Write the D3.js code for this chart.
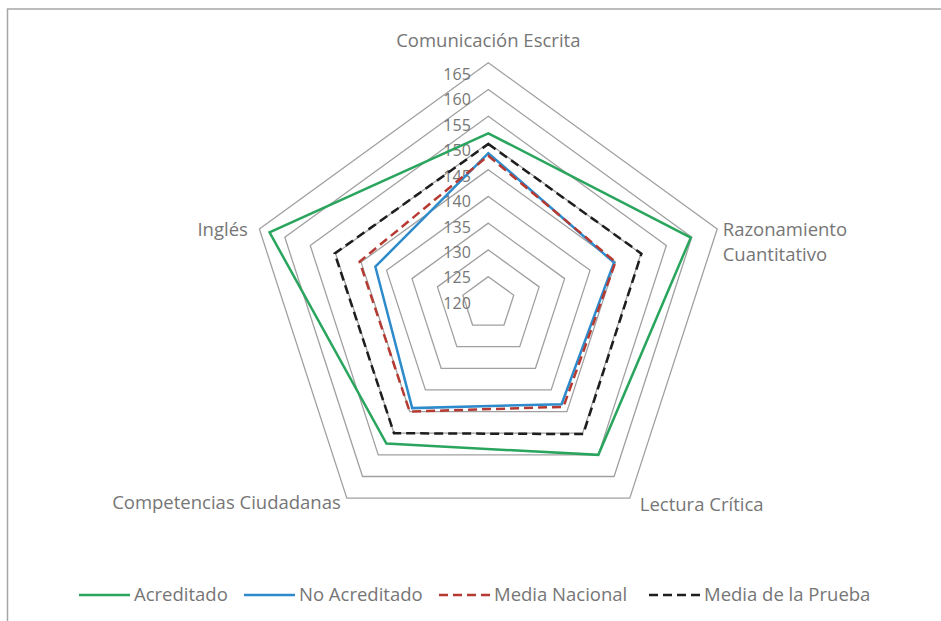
<!DOCTYPE html>
<html>
<head>
<meta charset="utf-8">
<script src="https://cdn.jsdelivr.net/npm/d3@7"></script>
<style>
  body { margin: 0; background: #fff; }
  text { font-family: "Open Sans", Lato, sans-serif; fill: #767676; }
</style>
</head>
<body>
<div id="chart"></div>
<script>
var categories = ["Comunicación Escrita", "Razonamiento Cuantitativo", "Lectura Crítica",
                  "Competencias Ciudadanas", "Inglés"],
ticks = [120, 125, 130, 135, 140, 145, 150, 155, 160, 165],
acreditado = [151.8, 159.8, 155.0, 152.4, 163.0],
noAcreditado = [148.1, 144.7, 143.3, 144.2, 142.2],
mediaNacional = [147.6, 145.0, 143.9, 145.0, 145.3],
mediaPrueba = [149.8, 150.1, 150.2, 150.0, 150.2];

var series = [
  {name: "Acreditado", values: acreditado, color: "#2AA55E", dash: null},
  {name: "No Acreditado", values: noAcreditado, color: "#2E8BCB", dash: null},
  {name: "Media Nacional", values: mediaNacional, color: "#B73A32", dash: "9,5"},
  {name: "Media de la Prueba", values: mediaPrueba, color: "#1E1E1E", dash: "9,5"}
];

var W = 941, H = 621,
CX = 488.3, CY = 303.4,
FONT = "18.5px",
svg = d3.select("#chart").append("svg")
  .attr("width", W)
  .attr("height", H);

// outer frame, runs off the right and bottom edges
svg.append("rect")
  .attr("x", 7.5).attr("y", 9)
  .attr("width", 1000).attr("height", 700)
  .style("fill", "none")
  .style("stroke", "#A6A6A6")
  .style("stroke-width", 1.5);

var r = d3.scaleLinear().domain([120, 165]).range([0, 240.7]);
// Excel puts the value labels on a slightly tighter step than the rings
var labelY = d3.scaleLinear().domain([120, 165]).range([303.3, 74.2]);
var angle = d3.scaleLinear().domain([0, categories.length]).range([0, 2 * Math.PI]);

function pt(i, v) {
  var a = angle(i);
  return [CX + r(v) * Math.sin(a), CY - r(v) * Math.cos(a)];
}

var g = svg.append("g");

// rings
ticks.slice(1).forEach(function(t) {
  g.append("polygon")
    .attr("points", categories.map(function(c, i) { return pt(i, t).join(","); }).join(" "))
    .style("fill", "none")
    .style("stroke", "#A0A0A0")
    .style("stroke-width", 1.3);
});

// value labels
g.selectAll("text.tick")
  .data(ticks)
  .enter().append("text")
  .attr("class", "tick")
  .attr("x", 470.8)
  .attr("y", function(d) { return labelY(d); })
  .attr("dy", "0.35em")
  .attr("text-anchor", "end")
  .style("font-size", "16px")
  .text(function(d) { return d; });

// series
var line = d3.line().curve(d3.curveLinearClosed);
series.forEach(function(s) {
  g.append("path")
    .attr("d", line(s.values.map(function(v, i) { return pt(i, v); })))
    .style("fill", "none")
    .style("stroke", s.color)
    .style("stroke-width", 2.5)
    .style("stroke-linejoin", "miter")
    .style("stroke-dasharray", s.dash);
});

// category labels
var maxTick = ticks[ticks.length - 1];
var catPos = [
  {dx: 0, dy: -22, anchor: "middle", lines: ["Comunicación Escrita"]},
  {dx: 5.5, dy: 1, anchor: "start", lines: ["Razonamiento", "Cuantitativo"]},
  {dx: 10, dy: 6, anchor: "start", lines: ["Lectura Crítica"]},
  {dx: -6, dy: 4, anchor: "end", lines: ["Competencias Ciudadanas"]},
  {dx: -11.5, dy: 1, anchor: "end", lines: ["Inglés"]}
];
categories.forEach(function(c, i) {
  var p = pt(i, maxTick), o = catPos[i];
  var t = g.append("text")
    .attr("x", p[0] + o.dx)
    .attr("y", p[1] + o.dy)
    .attr("text-anchor", o.anchor)
    .style("font-size", FONT);
  o.lines.forEach(function(l, k) {
    t.append("tspan")
      .attr("x", p[0] + o.dx)
      .attr("dy", k === 0 ? "0.35em" : "25px")
      .text(l);
  });
});

// legend
var legendX = [79, 244, 439, 649],
LEG_Y = 595;
var leg = svg.selectAll("g.leg")
  .data(series)
  .enter().append("g")
  .attr("class", "leg")
  .attr("transform", function(d, i) { return "translate(" + legendX[i] + "," + LEG_Y + ")"; });
leg.append("line")
  .attr("x1", 0).attr("x2", 51)
  .attr("y1", 0).attr("y2", 0)
  .style("stroke", function(d) { return d.color; })
  .style("stroke-width", 2.5)
  .style("stroke-dasharray", function(d) { return d.dash; });
leg.append("text")
  .attr("x", 55)
  .attr("dy", "0.35em")
  .style("font-size", FONT)
  .text(function(d) { return d.name; });
</script>
</body>
</html>
